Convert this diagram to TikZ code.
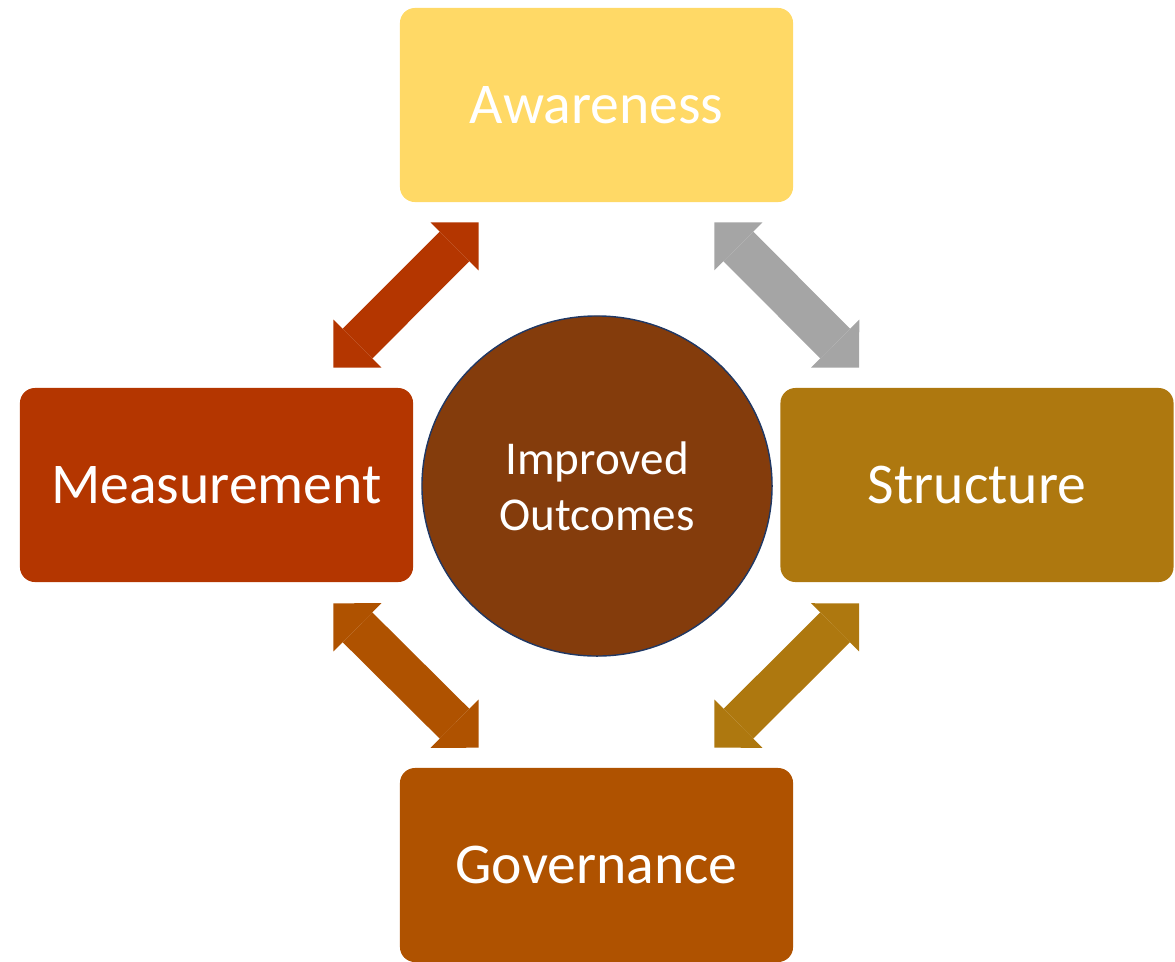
\documentclass[tikz,border=0pt]{standalone}
\usepackage{fontspec}
\setmainfont{Carlito}
\usetikzlibrary{arrows.meta,shapes.geometric,calc}

\definecolor{awareyellow}{HTML}{FFD966}
\definecolor{measred}{HTML}{B43600}
\definecolor{structgold}{HTML}{AE780F}
\definecolor{govorange}{HTML}{AF5200}
\definecolor{corebrown}{HTML}{843C0C}
\definecolor{coreline}{HTML}{203864}
\definecolor{linkgray}{HTML}{A5A5A5}

\begin{document}
\begin{tikzpicture}[x=0.025cm,y=-0.025cm,
  box/.style={rounded corners=0.375cm, minimum width=9.825cm, minimum height=4.85cm,
    text=white, font=\fontsize{41}{49}\selectfont},
  link/.style={line width=29.9pt,
    arrows={Triangle[length=24.2pt,width=48.4pt,line width=0pt]-Triangle[length=24.2pt,width=48.4pt,line width=0pt]}}]

\useasboundingbox (0,0) rectangle (1175,961);

% four boxes round the core
\node [box, fill=awareyellow] (aware)  at (596.5,105) {Awareness};
\node [box, fill=measred]     (meas)   at (216.5,485) {Measurement};
\node [box, fill=structgold]  (struct) at (977,485)   {Structure};
\node [box, fill=govorange]   (gov)    at (596.5,865) {Governance};

\node [ellipse, fill=corebrown, draw=coreline, line width=1pt,
  minimum width=8.75cm, minimum height=8.5cm, text=white, align=center,
  font=\fontsize{33.5}{40}\selectfont] (core) at (597,486) {Improved\\Outcomes};

% double arrows between the boxes
\draw [link, measred]    ($(meas.north east)+(-80,-20)$) -- ($(aware.south west)+(79,20)$);
\draw [link, linkgray]   ($(aware.south east)+(-79,20)$) -- ($(struct.north west)+(79,-20)$);
\draw [link, govorange]  ($(meas.south east)+(-80,21)$)  -- ($(gov.north west)+(79,-20)$);
\draw [link, structgold] ($(struct.south west)+(79,21)$) -- ($(gov.north east)+(-79,-20)$);

\end{tikzpicture}
\end{document}
